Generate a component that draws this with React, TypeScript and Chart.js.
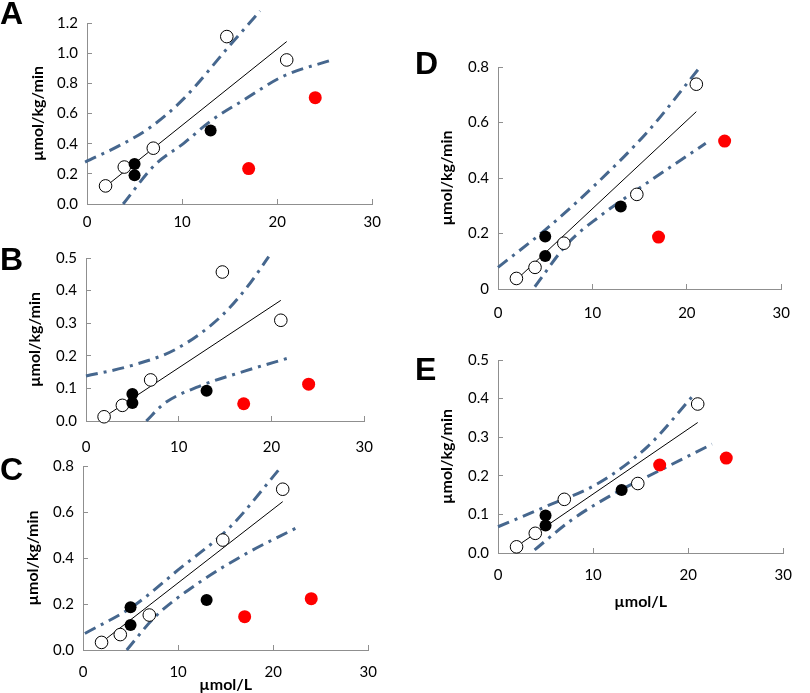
import React, { useEffect, useRef } from "react";
import { Chart, registerables } from "chart.js";

Chart.register(...registerables);

// ---------- shared data ----------
const X_TICKS = ["0", "10", "20", "30"];
const X_LINE = [2, 21];
const X_OPEN = [1.95, 3.92, 6.97, 14.7, 21.0];
const X_FILLED = [5, 5, 13];
const X_RED = [17, 24];

// ---------- Panel A ----------
const A_Y_TICKS = ["0.0", "0.2", "0.4", "0.6", "0.8", "1.0", "1.2"];
const A_OPEN = [0.12, 0.245, 0.37, 1.11, 0.955];
const A_FILLED = [0.265, 0.19, 0.487];
const A_RED = [0.235, 0.705];
const A_LINE = [0.118, 1.077];
const A_UPPER = [[-0.2, 0.278], [3.5, 0.39], [6.7, 0.51], [10.2, 0.7], [15, 1.05], [18.2, 1.28]];
const A_LOWER = [[3.8, 0.0], [7.1, 0.257], [10.2, 0.404], [13, 0.55], [16.5, 0.69], [20.6, 0.846], [25.8, 0.956]];

// ---------- Panel B ----------
const B_Y_TICKS = ["0.0", "0.1", "0.2", "0.3", "0.4", "0.5"];
const B_OPEN = [0.013, 0.048, 0.126, 0.457, 0.309];
const B_FILLED = [0.083, 0.055, 0.093];
const B_RED = [0.053, 0.113];
const B_LINE = [0.013, 0.37];
const B_UPPER = [[0, 0.138], [4.9, 0.17], [9.8, 0.222], [14.6, 0.322], [17.4, 0.412], [19.7, 0.504]];
const B_LOWER = [[6.5, 0.0], [8.4, 0.053], [11.9, 0.103], [17.1, 0.153], [21.8, 0.193]];

// ---------- Panel C ----------
const C_Y_TICKS = ["0.0", "0.2", "0.4", "0.6", "0.8"];
const C_OPEN = [0.033, 0.067, 0.152, 0.478, 0.699];
const C_FILLED = [0.186, 0.109, 0.217];
const C_RED = [0.145, 0.223];
const C_LINE = [0.035, 0.645];
const C_UPPER = [[0.2, 0.072], [5.2, 0.188], [10, 0.348], [15.5, 0.536], [20.8, 0.794]];
const C_LOWER = [[4.6, 0.0], [7.6, 0.145], [12.1, 0.29], [17.2, 0.42], [22.4, 0.53]];

// ---------- Panel D ----------
const D_Y_TICKS = ["0", "0.2", "0.4", "0.6", "0.8"];
const D_OPEN = [0.038, 0.078, 0.165, 0.341, 0.738];
const D_FILLED = [0.189, 0.119, 0.297];
const D_RED = [0.187, 0.533];
const D_LINE = [0.035, 0.639];
const D_UPPER = [[0, 0.078], [5, 0.213], [10.1, 0.369], [16, 0.573], [21.4, 0.8]];
const D_LOWER = [[3.9, 0.008], [7.4, 0.165], [10.7, 0.26], [14.7, 0.357], [22, 0.525]];

// ---------- Panel E ----------
const E_Y_TICKS = ["0.0", "0.1", "0.2", "0.3", "0.4", "0.5"];
const E_OPEN = [0.016, 0.051, 0.139, 0.18, 0.386];
const E_FILLED = [0.097, 0.071, 0.163];
const E_RED = [0.228, 0.246];
const E_LINE = [0.018, 0.338];
const E_UPPER = [[0, 0.068], [5, 0.12], [10.5, 0.18], [15.7, 0.275], [20.6, 0.41]];
const E_LOWER = [[3.85, 0.008], [7.7, 0.085], [12.3, 0.155], [17.1, 0.215], [22.5, 0.282]];

// ---------- styles / layout ----------
const AXIS = "#8f8f8f";
const BAND = "#46678e";
const FONT = "Lato, 'Open Sans', sans-serif";
const Y_TITLE = "µmol/kg/min";
const X_TITLE = "µmol/L";

const PANELS = [
  { letter: "A", yTicks: A_Y_TICKS, open: A_OPEN, filled: A_FILLED, red: A_RED, line: A_LINE, upper: A_UPPER, lower: A_LOWER, xTitle: false },
  { letter: "B", yTicks: B_Y_TICKS, open: B_OPEN, filled: B_FILLED, red: B_RED, line: B_LINE, upper: B_UPPER, lower: B_LOWER, xTitle: false },
  { letter: "C", yTicks: C_Y_TICKS, open: C_OPEN, filled: C_FILLED, red: C_RED, line: C_LINE, upper: C_UPPER, lower: C_LOWER, xTitle: true },
  { letter: "D", yTicks: D_Y_TICKS, open: D_OPEN, filled: D_FILLED, red: D_RED, line: D_LINE, upper: D_UPPER, lower: D_LOWER, xTitle: false },
  { letter: "E", yTicks: E_Y_TICKS, open: E_OPEN, filled: E_FILLED, red: E_RED, line: E_LINE, upper: E_UPPER, lower: E_LOWER, xTitle: true },
];

// canvas box, chart-area offsets inside it, label paddings
const LAYOUTS = [
  { l: 0, t: 0, w: 395, h: 240, yW: 87, padTop: 14, padRight: 20, xH: 36, xPad: 14, yTitlePad: 30, xTitlePad: 0, letterX: 0, letterY: -3 },
  { l: 0, t: 235, w: 395, h: 230, yW: 86, padTop: 19, padRight: 21, xH: 44, xPad: 22, yTitlePad: 27, xTitlePad: 0, letterX: 0, letterY: 243 },
  { l: 0, t: 440, w: 395, h: 253, yW: 83, padTop: 26, padRight: 23, xH: 43, xPad: 18, yTitlePad: 25, xTitlePad: 0, letterX: 0, letterY: 453 },
  { l: 400, t: 30, w: 410, h: 300, yW: 98, padTop: 37, padRight: 10, xH: 41, xPad: 20, yTitlePad: 39, xTitlePad: 0, letterX: 415, letterY: 47 },
  { l: 400, t: 330, w: 410, h: 300, yW: 98, padTop: 30, padRight: 23, xH: 77, xPad: 18, yTitlePad: 39, xTitlePad: 20, letterX: 415, letterY: 353 },
];

function pts(xs: number[], ys: number[]) {
  return ys.map((y, i) => ({ x: xs[i], y }));
}
function pairs(arr: number[][]) {
  return arr.map(([x, y]) => ({ x, y }));
}

function Panel({ spec, lay }: { spec: any; lay: any }) {
  const ref = useRef<HTMLCanvasElement>(null);
  useEffect(() => {
    const yTicks: string[] = spec.yTicks;
    const tickFont = { family: FONT, size: 15 };
    const titleFont = { family: FONT, size: 16, weight: "bold" as const, lineHeight: 1 };
    const chart = new Chart(ref.current as HTMLCanvasElement, {
      type: "scatter",
      data: {
        datasets: [
          { data: pts(X_RED, spec.red), pointRadius: 6.5, pointBackgroundColor: "#ff0000", pointBorderColor: "#ff0000", pointBorderWidth: 0, showLine: false, clip: false },
          { data: pts(X_FILLED, spec.filled), pointRadius: 6, pointBackgroundColor: "#000000", pointBorderColor: "#000000", pointBorderWidth: 0, showLine: false, clip: false },
          { data: pts(X_OPEN, spec.open), pointRadius: 6.3, pointBackgroundColor: "#ffffff", pointBorderColor: "#000000", pointBorderWidth: 1, showLine: false, clip: false },
          { data: pts(X_LINE, spec.line), showLine: true, borderColor: "#000000", borderWidth: 1, pointRadius: 0, clip: false },
          { data: pairs(spec.upper), showLine: true, borderColor: BAND, borderWidth: 3, borderDash: [12, 6, 3, 6], pointRadius: 0, cubicInterpolationMode: "monotone", clip: false },
          { data: pairs(spec.lower), showLine: true, borderColor: BAND, borderWidth: 3, borderDash: [12, 6, 3, 6], pointRadius: 0, cubicInterpolationMode: "monotone", clip: false },
        ] as any,
      },
      options: {
        responsive: false,
        animation: false,
        events: [],
        layout: { padding: { left: 0, top: lay.padTop, right: lay.padRight, bottom: 0 } },
        plugins: { legend: { display: false }, tooltip: { enabled: false } },
        scales: {
          x: {
            type: "linear",
            position: "bottom",
            min: 0,
            max: 30,
            afterBuildTicks: (s: any) => {
              s.ticks = X_TICKS.map((t) => ({ value: Number(t) }));
            },
            afterFit: (s: any) => {
              s.height = lay.xH;
            },
            ticks: { callback: (_v: any, i: number) => X_TICKS[i], font: tickFont, color: "#000", padding: lay.xPad, maxRotation: 0, autoSkip: false },
            grid: { drawOnChartArea: false, drawTicks: true, tickLength: -5, color: AXIS, lineWidth: 1 },
            border: { display: true, color: AXIS, width: 1 },
            title: spec.xTitle
              ? { display: true, text: X_TITLE, font: titleFont, color: "#000", padding: { top: 0, bottom: lay.xTitlePad } }
              : { display: false },
          },
          y: {
            type: "linear",
            position: "left",
            min: Number(yTicks[0]),
            max: Number(yTicks[yTicks.length - 1]),
            afterBuildTicks: (s: any) => {
              s.ticks = yTicks.map((t) => ({ value: Number(t) }));
            },
            afterFit: (s: any) => {
              s.width = lay.yW;
            },
            ticks: { callback: (_v: any, i: number) => yTicks[i], font: tickFont, color: "#000", padding: 14, autoSkip: false },
            grid: { drawOnChartArea: false, drawTicks: true, tickLength: -5, color: AXIS, lineWidth: 1 },
            border: { display: true, color: AXIS, width: 1 },
            title: { display: true, text: Y_TITLE, font: titleFont, color: "#000", padding: { top: lay.yTitlePad, bottom: 0 } },
          },
        },
      } as any,
    });
    return () => chart.destroy();
  }, []);
  return (
    <canvas
      ref={ref}
      width={lay.w}
      height={lay.h}
      style={{ position: "absolute", left: lay.l, top: lay.t, width: lay.w, height: lay.h }}
    />
  );
}

export default function App() {
  return (
    <div style={{ position: "absolute", left: 0, top: 0, width: 810, height: 693, background: "#fff", overflow: "hidden" }}>
      {PANELS.map((p, i) => (
        <React.Fragment key={p.letter}>
          <Panel spec={p} lay={LAYOUTS[i]} />
          <div
            style={{
              position: "absolute",
              left: LAYOUTS[i].letterX,
              top: LAYOUTS[i].letterY,
              fontFamily: "'Liberation Sans', Arial, sans-serif",
              fontWeight: "bold",
              fontSize: 32,
              lineHeight: 1,
              color: "#000",
            }}
          >
            {p.letter}
          </div>
        </React.Fragment>
      ))}
    </div>
  );
}
